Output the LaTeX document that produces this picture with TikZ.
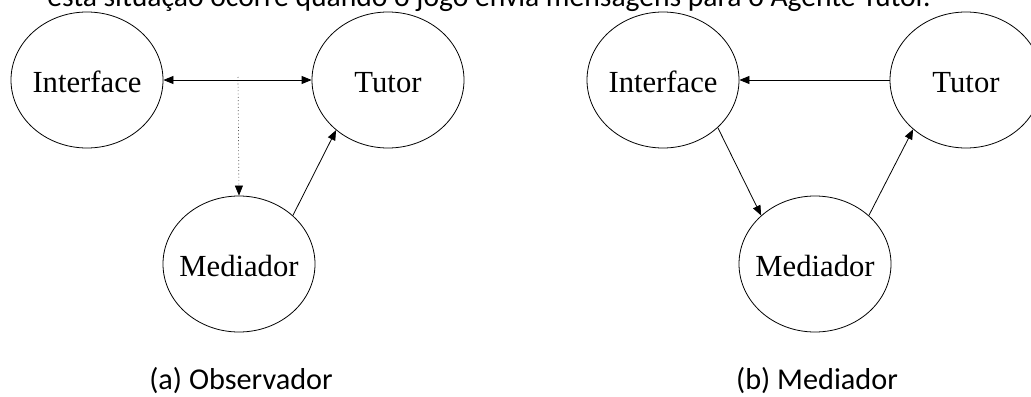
\documentclass[tikz,border=0pt]{standalone}
\usepackage{fontspec}
\setmainfont{Liberation Serif}
\newfontfamily\capfont{Carlito}
\usetikzlibrary{shapes.geometric,arrows.meta}
\newcommand{\agtext}[1]{\makebox[0pt]{\raisebox{-9.5pt}[0pt][0pt]{#1}}}
\tikzset{
  agent/.style={draw, ellipse, line width=0.6pt, minimum width=114pt, minimum height=102pt, inner sep=0pt,
    font=\fontsize{23}{27}\selectfont},
  conn/.style={line width=0.6pt, -{Triangle[length=7.5pt,width=6pt]}},
  biconn/.style={line width=0.6pt, {Triangle[length=7.5pt,width=6pt]}-{Triangle[length=7.5pt,width=6pt]}},
  obs/.style={line width=0.5pt, dotted, -{Triangle[length=7.5pt,width=6pt]}},
  captext/.style={font=\capfont\fontsize{22.7}{26}\selectfont, inner sep=0pt},
  toptextstyle/.style={font=\capfont\fontsize{22.2}{26}\selectfont, inner sep=0pt}
}
\begin{document}
\begin{tikzpicture}[x=0.75pt,y=-0.75pt]
\useasboundingbox (0,0) rectangle (1031,396);
\clip (0,0) rectangle (1031,396);
\fill[white] (0,0) rectangle (1031,396);
% top text (cut off)
\node[toptextstyle, anchor=base west] (toptext) at (47,7) {esta situação ocorre quando o jogo envia mensagens para o Agente Tutor.};
% (a) Observador
\node[agent] (ia) at (87,80) {\agtext{Interface}};
\node[agent] (ta) at (388,80) {\agtext{Tutor}};
\node[agent] (ma) at (239,264) {\agtext{Mediador}};
\draw[biconn] (ia.east) -- (ta.west);
\coordinate (obsa) at (238,77);
\draw[obs] (obsa) -- (ma.north);
\draw[conn] (ma.42) -- (ta.224);
\node[captext, anchor=base] (capa) at (241,389) {(a) Observador};
% (b) Mediador
\node[agent] (ib) at (663,80) {\agtext{Interface}};
\node[agent] (tb) at (966,80) {\agtext{Tutor}};
\node[agent] (mb) at (815,264) {\agtext{Mediador}};
\draw[conn] (tb.west) -- (ib.east);
\draw[conn] (ib.-41) -- (mb.138);
\draw[conn] (mb.42) -- (tb.223);
\node[captext, anchor=base] (capb) at (817,389) {(b) Mediador};
\end{tikzpicture}
\end{document}
